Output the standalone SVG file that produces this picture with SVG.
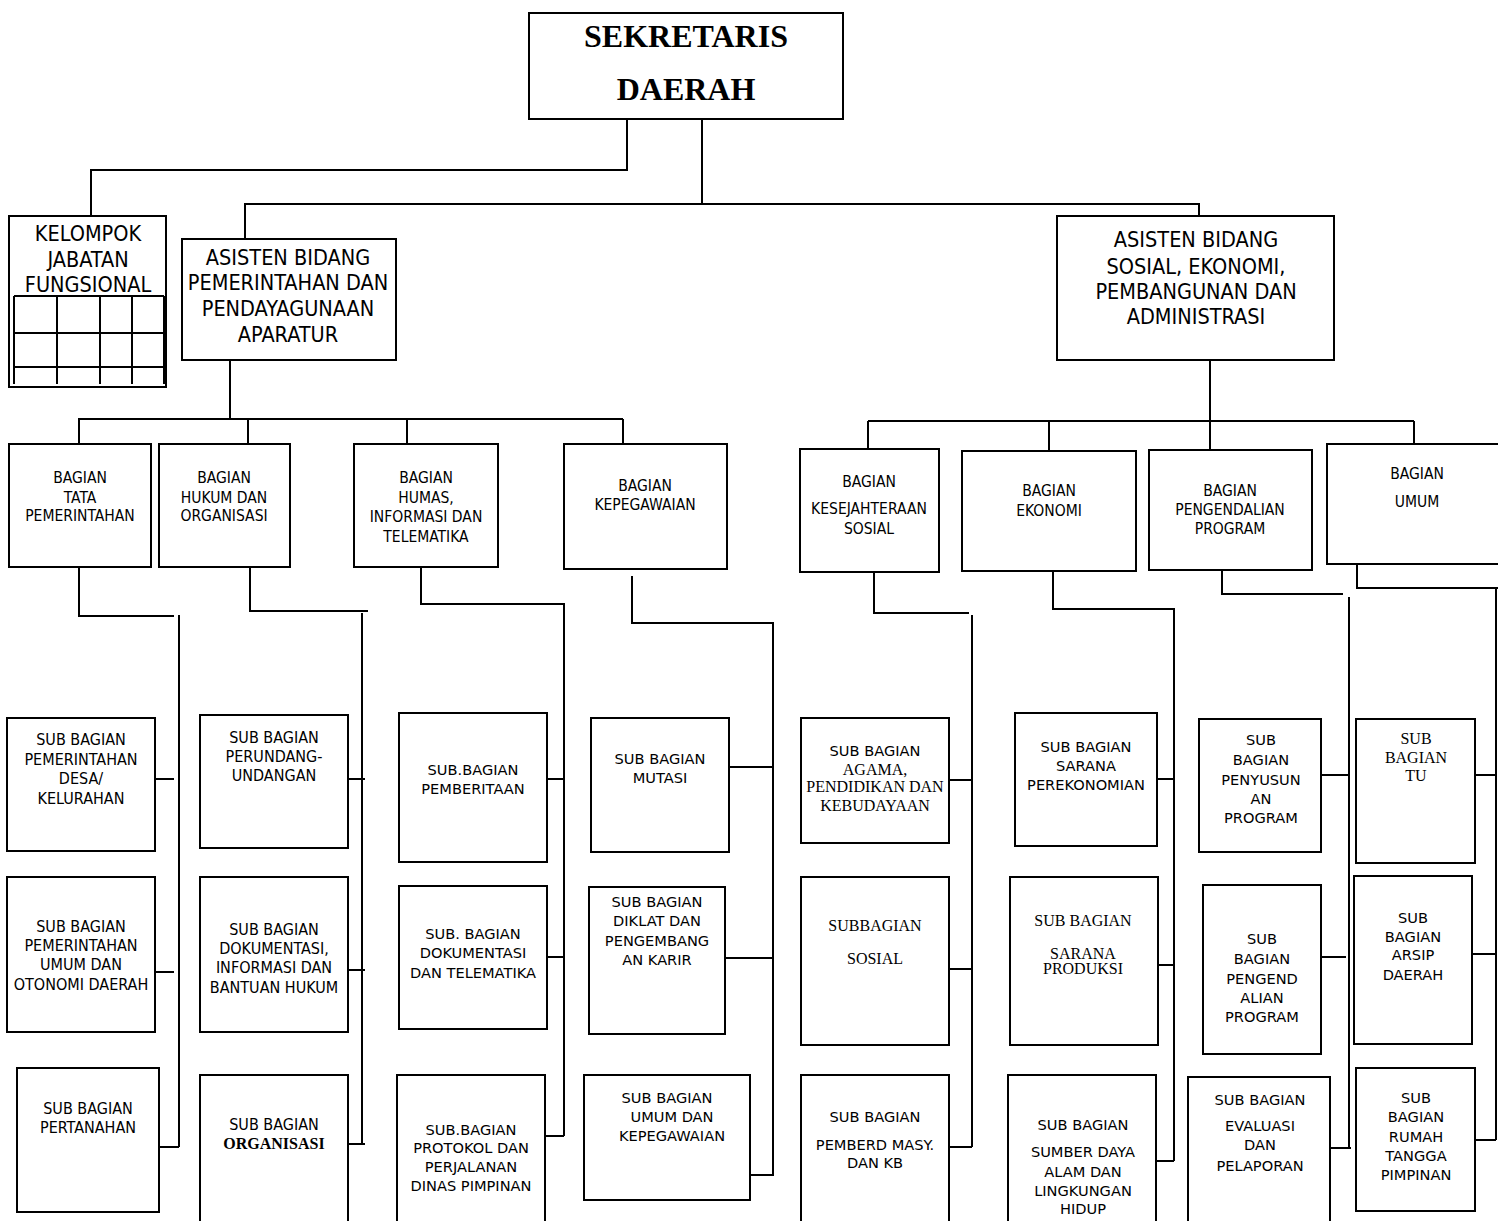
<svg xmlns="http://www.w3.org/2000/svg" width="1498" height="1221" viewBox="0 0 1498 1221">
<style>
.box{fill:#fff;stroke:#000;stroke-width:2}
.ln{fill:none;stroke:#000;stroke-width:2}
.t{font-family:"DejaVu Sans Condensed","DejaVu Sans",sans-serif;font-size:15.5px;text-anchor:middle;fill:#000}
.u{font-family:"DejaVu Sans Condensed","DejaVu Sans",sans-serif;font-size:16px;text-anchor:middle;fill:#000}
.v{font-family:"DejaVu Sans",sans-serif;font-size:14.6px;text-anchor:middle;fill:#000}
.s{font-family:"Liberation Serif","Times New Roman",serif;font-size:16px;text-anchor:middle;fill:#000}
.big{font-family:"DejaVu Sans Condensed","DejaVu Sans",sans-serif;font-size:21.5px;text-anchor:middle;fill:#000}
.title{font-family:"Liberation Serif","Times New Roman",serif;font-size:32px;font-weight:bold;text-anchor:middle;fill:#000}
.sb{font-family:"Liberation Serif","Times New Roman",serif;font-size:16px;font-weight:bold;text-anchor:middle;fill:#000}
</style>
<rect width="1498" height="1221" fill="#fff"/>
<g id="connectors" class="ln">
<path d="M627,119 V170 H91 V216"/>
<path d="M702,119 V204"/>
<path d="M245,239 V204 H1199 V216"/>
<path d="M230,360 V419"/>
<path d="M78,419 H623"/>
<path d="M79,419 V444 M248,419 V444 M407,419 V444 M623,419 V444"/>
<path d="M1210,360 V450"/>
<path d="M868,421 H1414"/>
<path d="M868,421 V449 M1049,421 V451 M1414,421 V444"/>
<path d="M79,567 V616 H174"/>
<path d="M179,615 V1147"/>
<path d="M153,779 H174 M153,972 H174 M159,1147 H179"/>
<path d="M250,567 V611 H368"/>
<path d="M362,613 V1144"/>
<path d="M343,779 H365 M343,970 H365 M343,1144 H365"/>
<path d="M421,567 V604 H564 V1136"/>
<path d="M545,779 H564 M545,957 H564 M545,1136 H564"/>
<path d="M632,576 V623 H773 V1176"/>
<path d="M727,767 H773 M725,958 H773 M750,1175 H773"/>
<path d="M874,572 V613 H969"/>
<path d="M972,615 V1147"/>
<path d="M947,780 H972 M949,969 H972 M949,1147 H972"/>
<path d="M1053,571 V609 H1174 V1161"/>
<path d="M1154,779 H1174 M1154,965 H1174 M1154,1161 H1174"/>
<path d="M1222,570 V594 H1343"/>
<path d="M1349,597 V1148"/>
<path d="M1321,775 H1349 M1321,957 H1346 M1327,1148 H1351"/>
<path d="M1357,564 V588 H1498"/>
<path d="M1496,588 V1140"/>
<path d="M1475,775 H1496 M1472,954 H1496 M1475,1140 H1496"/>
</g>
<g id="sekretaris">
<rect class="box" x="529" y="13" width="314" height="106"/>
<text class="title" x="686" y="47">SEKRETARIS</text>
<text class="title" x="686" y="100">DAERAH</text>
</g>
<g id="kelompok">
<rect class="box" x="9" y="216" width="157" height="171"/>
<text class="big" x="88" y="241">KELOMPOK</text>
<text class="big" x="88" y="267">JABATAN</text>
<text class="big" x="88" y="292">FUNGSIONAL</text>
<path class="ln" d="M14,296 H164 M14,333 H164 M14,367 H164 M14,296 V384 M57,296 V384 M100,296 V384 M132,296 V384 M164,296 V384"/>
</g>
<g id="asisten-pemerintahan">
<rect class="box" x="182" y="239" width="214" height="121"/>
<text class="big" x="288" y="265">ASISTEN BIDANG</text>
<text class="big" x="288" y="290">PEMERINTAHAN DAN</text>
<text class="big" x="288" y="316">PENDAYAGUNAAN</text>
<text class="big" x="288" y="342">APARATUR</text>
</g>
<g id="asisten-sosial">
<rect class="box" x="1057" y="216" width="277" height="144"/>
<text class="big" x="1196" y="247">ASISTEN BIDANG</text>
<text class="big" x="1196" y="274">SOSIAL, EKONOMI,</text>
<text class="big" x="1196" y="299">PEMBANGUNAN DAN</text>
<text class="big" x="1196" y="324">ADMINISTRASI</text>
</g>
<g id="bagian-tata">
<rect class="box" x="9" y="444" width="142" height="123"/>
<text class="t" x="80" y="483">BAGIAN</text>
<text class="t" x="80" y="503">TATA</text>
<text class="t" x="80" y="521">PEMERINTAHAN</text>
</g>
<g id="bagian-hukum">
<rect class="box" x="159" y="444" width="131" height="123"/>
<text class="t" x="224" y="483">BAGIAN</text>
<text class="t" x="224" y="503">HUKUM DAN</text>
<text class="t" x="224" y="521">ORGANISASI</text>
</g>
<g id="bagian-humas">
<rect class="box" x="354" y="444" width="144" height="123"/>
<text class="t" x="426" y="483">BAGIAN</text>
<text class="t" x="426" y="503">HUMAS,</text>
<text class="t" x="426" y="522">INFORMASI DAN</text>
<text class="t" x="426" y="542">TELEMATIKA</text>
</g>
<g id="bagian-kepegawaian">
<rect class="box" x="564" y="444" width="163" height="125"/>
<text class="t" x="645" y="491">BAGIAN</text>
<text class="t" x="645" y="510">KEPEGAWAIAN</text>
</g>
<g id="bagian-kesejahteraan">
<rect class="box" x="800" y="449" width="139" height="123"/>
<text class="t" x="869" y="487">BAGIAN</text>
<text class="t" x="869" y="514">KESEJAHTERAAN</text>
<text class="t" x="869" y="534">SOSIAL</text>
</g>
<g id="bagian-ekonomi">
<rect class="box" x="962" y="451" width="174" height="120"/>
<text class="t" x="1049" y="496">BAGIAN</text>
<text class="t" x="1049" y="516">EKONOMI</text>
</g>
<g id="bagian-pengendalian">
<rect class="box" x="1149" y="450" width="163" height="120"/>
<text class="t" x="1230" y="496">BAGIAN</text>
<text class="t" x="1230" y="515">PENGENDALIAN</text>
<text class="t" x="1230" y="534">PROGRAM</text>
</g>
<g id="bagian-umum">
<rect class="box" x="1327" y="444" width="183" height="120"/>
<text class="t" x="1417" y="479">BAGIAN</text>
<text class="t" x="1417" y="507">UMUM</text>
</g>
<g id="sub-desa">
<rect class="box" x="7" y="718" width="148" height="133"/>
<text class="u" x="81" y="745">SUB BAGIAN</text>
<text class="u" x="81" y="765">PEMERINTAHAN</text>
<text class="u" x="81" y="784">DESA/</text>
<text class="u" x="81" y="804">KELURAHAN</text>
</g>
<g id="sub-otonomi">
<rect class="box" x="7" y="877" width="148" height="155"/>
<text class="u" x="81" y="932">SUB BAGIAN</text>
<text class="u" x="81" y="951">PEMERINTAHAN</text>
<text class="u" x="81" y="970">UMUM DAN</text>
<text class="u" x="81" y="990">OTONOMI DAERAH</text>
</g>
<g id="sub-pertanahan">
<rect class="box" x="17" y="1068" width="142" height="144"/>
<text class="u" x="88" y="1114">SUB BAGIAN</text>
<text class="u" x="88" y="1133">PERTANAHAN</text>
</g>
<g id="sub-perundang">
<rect class="box" x="200" y="715" width="148" height="133"/>
<text class="u" x="274" y="743">SUB BAGIAN</text>
<text class="u" x="274" y="762">PERUNDANG-</text>
<text class="u" x="274" y="781">UNDANGAN</text>
</g>
<g id="sub-dokumentasi-hukum">
<rect class="box" x="200" y="877" width="148" height="155"/>
<text class="u" x="274" y="935">SUB BAGIAN</text>
<text class="u" x="274" y="954">DOKUMENTASI,</text>
<text class="u" x="274" y="973">INFORMASI DAN</text>
<text class="u" x="274" y="993">BANTUAN HUKUM</text>
</g>
<g id="sub-organisasi">
<rect class="box" x="200" y="1075" width="148" height="155"/>
<text class="u" x="274" y="1130">SUB BAGIAN</text>
<text class="sb" x="274" y="1149">ORGANISASI</text>
</g>
<g id="sub-pemberitaan">
<rect class="box" x="399" y="713" width="148" height="149"/>
<text class="v" x="473" y="775">SUB.BAGIAN</text>
<text class="v" x="473" y="794">PEMBERITAAN</text>
</g>
<g id="sub-dokumentasi-telematika">
<rect class="box" x="399" y="886" width="148" height="143"/>
<text class="v" x="473" y="939">SUB. BAGIAN</text>
<text class="v" x="473" y="958">DOKUMENTASI</text>
<text class="v" x="473" y="978">DAN TELEMATIKA</text>
</g>
<g id="sub-protokol">
<rect class="box" x="397" y="1075" width="148" height="155"/>
<text class="v" x="471" y="1135">SUB.BAGIAN</text>
<text class="v" x="471" y="1153">PROTOKOL DAN</text>
<text class="v" x="471" y="1172">PERJALANAN</text>
<text class="v" x="471" y="1191">DINAS PIMPINAN</text>
</g>
<g id="sub-mutasi">
<rect class="box" x="591" y="718" width="138" height="134"/>
<text class="v" x="660" y="764">SUB BAGIAN</text>
<text class="v" x="660" y="783">MUTASI</text>
</g>
<g id="sub-diklat">
<rect class="box" x="589" y="887" width="136" height="147"/>
<text class="v" x="657" y="907">SUB BAGIAN</text>
<text class="v" x="657" y="926">DIKLAT DAN</text>
<text class="v" x="657" y="946">PENGEMBANG</text>
<text class="v" x="657" y="965">AN KARIR</text>
</g>
<g id="sub-umum-kepegawaian">
<rect class="box" x="584" y="1075" width="166" height="125"/>
<text class="v" x="667" y="1103">SUB BAGIAN</text>
<text class="v" x="672" y="1122">UMUM  DAN</text>
<text class="v" x="672" y="1141">KEPEGAWAIAN</text>
</g>
<g id="sub-agama">
<rect class="box" x="801" y="718" width="148" height="125"/>
<text class="v" x="875" y="756">SUB BAGIAN</text>
<text class="s" x="875" y="775">AGAMA,</text>
<text class="s" x="875" y="792">PENDIDIKAN DAN</text>
<text class="s" x="875" y="811">KEBUDAYAAN</text>
</g>
<g id="sub-sosial">
<rect class="box" x="801" y="877" width="148" height="168"/>
<text class="s" x="875" y="931">SUBBAGIAN</text>
<text class="s" x="875" y="964">SOSIAL</text>
</g>
<g id="sub-pemberdayaan">
<rect class="box" x="801" y="1075" width="148" height="155"/>
<text class="v" x="875" y="1122">SUB BAGIAN</text>
<text class="v" x="875" y="1150">PEMBERD MASY.</text>
<text class="v" x="875" y="1168">DAN KB</text>
</g>
<g id="sub-sarana-perekonomian">
<rect class="box" x="1015" y="713" width="142" height="133"/>
<text class="v" x="1086" y="752">SUB BAGIAN</text>
<text class="v" x="1086" y="771">SARANA</text>
<text class="v" x="1086" y="790">PEREKONOMIAN</text>
</g>
<g id="sub-sarana-produksi">
<rect class="box" x="1010" y="877" width="148" height="168"/>
<text class="s" x="1083" y="926">SUB BAGIAN</text>
<text class="s" x="1083" y="959">SARANA</text>
<text class="s" x="1083" y="974">PRODUKSI</text>
</g>
<g id="sub-sumber-daya">
<rect class="box" x="1008" y="1075" width="148" height="155"/>
<text class="v" x="1083" y="1130">SUB BAGIAN</text>
<text class="v" x="1083" y="1157">SUMBER DAYA</text>
<text class="v" x="1083" y="1177">ALAM DAN</text>
<text class="v" x="1083" y="1196">LINGKUNGAN</text>
<text class="v" x="1083" y="1214">HIDUP</text>
</g>
<g id="sub-penyusunan">
<rect class="box" x="1199" y="719" width="122" height="133"/>
<text class="v" x="1261" y="745">SUB</text>
<text class="v" x="1261" y="765">BAGIAN</text>
<text class="v" x="1261" y="785">PENYUSUN</text>
<text class="v" x="1261" y="804">AN</text>
<text class="v" x="1261" y="823">PROGRAM</text>
</g>
<g id="sub-pengendalian">
<rect class="box" x="1203" y="885" width="118" height="169"/>
<text class="v" x="1262" y="944">SUB</text>
<text class="v" x="1262" y="964">BAGIAN</text>
<text class="v" x="1262" y="984">PENGEND</text>
<text class="v" x="1262" y="1003">ALIAN</text>
<text class="v" x="1262" y="1022">PROGRAM</text>
</g>
<g id="sub-evaluasi">
<rect class="box" x="1188" y="1077" width="142" height="153"/>
<text class="v" x="1260" y="1105">SUB BAGIAN</text>
<text class="v" x="1260" y="1131">EVALUASI</text>
<text class="v" x="1260" y="1150">DAN</text>
<text class="v" x="1260" y="1171">PELAPORAN</text>
</g>
<g id="sub-tu">
<rect class="box" x="1356" y="719" width="119" height="144"/>
<text class="s" x="1416" y="744">SUB</text>
<text class="s" x="1416" y="763">BAGIAN</text>
<text class="s" x="1416" y="781">TU</text>
</g>
<g id="sub-arsip">
<rect class="box" x="1354" y="876" width="118" height="168"/>
<text class="v" x="1413" y="923">SUB</text>
<text class="v" x="1413" y="942">BAGIAN</text>
<text class="v" x="1413" y="960">ARSIP</text>
<text class="v" x="1413" y="980">DAERAH</text>
</g>
<g id="sub-rumah-tangga">
<rect class="box" x="1356" y="1068" width="119" height="143"/>
<text class="v" x="1416" y="1103">SUB</text>
<text class="v" x="1416" y="1122">BAGIAN</text>
<text class="v" x="1416" y="1142">RUMAH</text>
<text class="v" x="1416" y="1161">TANGGA</text>
<text class="v" x="1416" y="1180">PIMPINAN</text>
</g>
</svg>
